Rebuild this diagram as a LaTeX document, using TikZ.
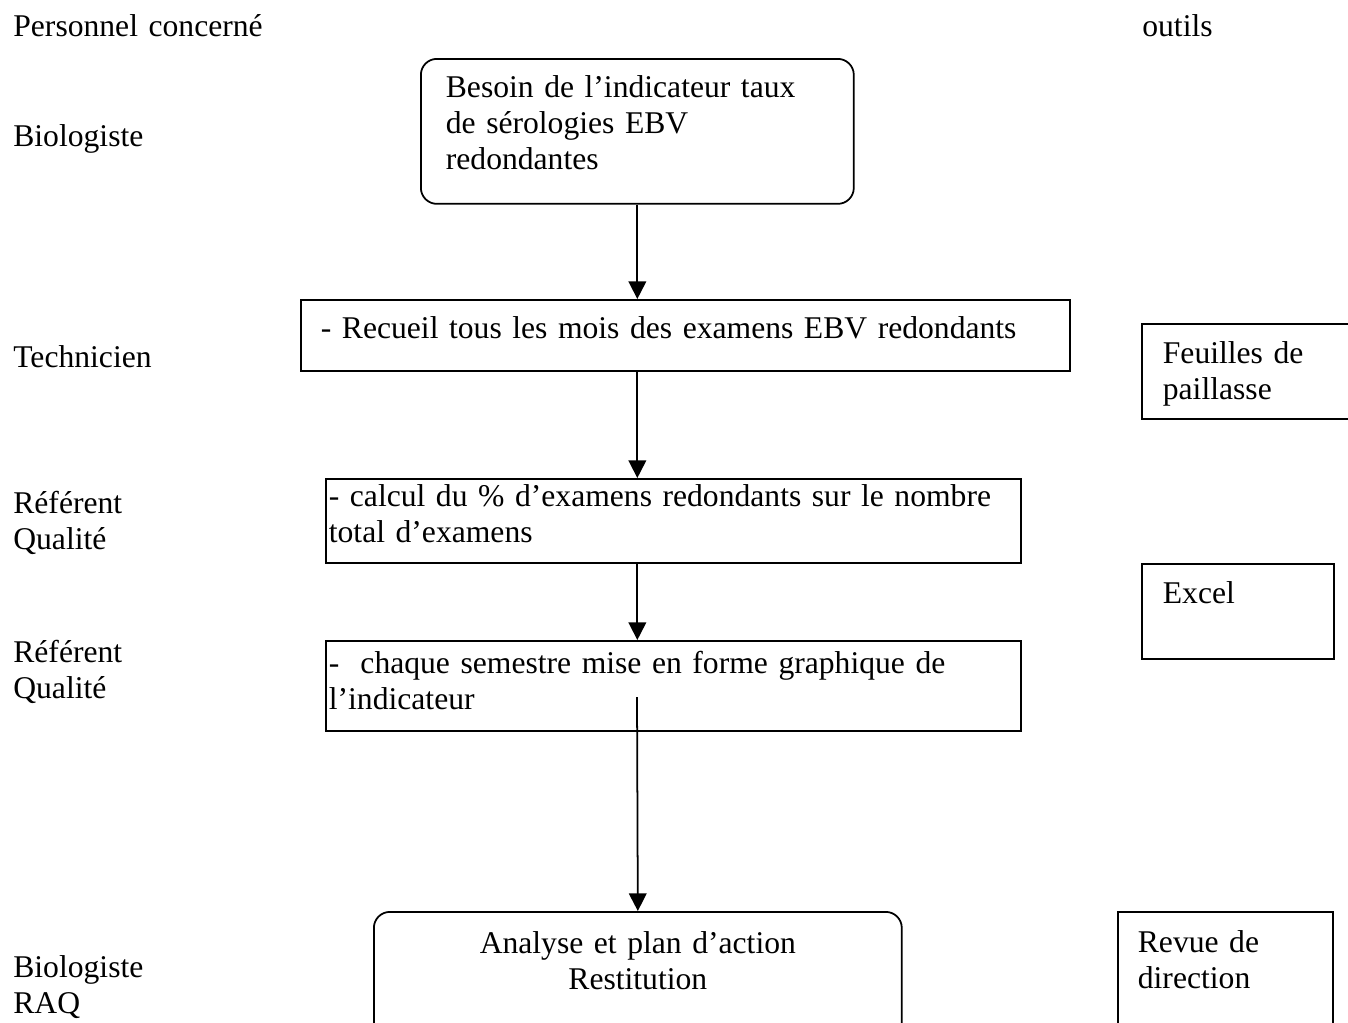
\documentclass[tikz,border=0pt]{standalone}
\usepackage{fontspec}
\setmainfont{Liberation Serif}
\usetikzlibrary{arrows.meta}

\begin{document}
\begin{tikzpicture}[
    x=0.02cm, y=-0.02cm,
    font=\fontsize{18}{20.5}\selectfont,
    box/.style={rectangle, draw=black, line width=1pt, anchor=north west,
      inner sep=0pt, align=left},
    roundbox/.style={box, rounded corners=0.32cm},
    role/.style={anchor=base west, inner sep=0pt, align=left, text width=7cm},
    arrow/.style={-{Triangle[length=10pt, width=10pt]}, line width=1pt},
  ]
  \useasboundingbox (0,0) rectangle (1348,1022);
  \clip (0,0) rectangle (1348,1022);

  % column titles
  \node[role] (perso)  at (13,36)   {Personnel concerné};
  \node[role] (outils) at (1142,36) {outils};

  % who does what
  \node[role] (bio)  at (13,146) {Biologiste};
  \node[role] (tech) at (13,367) {Technicien};
  \node[role] (rq1)  at (13,513) {Référent\\Qualité};
  \node[role] (rq2)  at (13,662) {Référent\\Qualité};
  \node[role] (raq)  at (13,977) {Biologiste\\RAQ};

  % steps
  \node[roundbox, text width=7.66cm, inner xsep=0.5cm, text height=0.78cm, text depth=2.12cm]
    (besoin) at (420,58) {Besoin de l’indicateur taux\\de sérologies EBV\\redondantes};
  \node[box, text width=14.58cm, inner xsep=0.4cm, text height=0.78cm, text depth=0.64cm]
    (recueil) at (300,299) {- Recueil tous les mois des examens EBV redondants};
  \node[box, text width=13.78cm, inner xsep=0.06cm, text height=0.56cm, text depth=1.12cm]
    (calcul) at (325,478) {- calcul du \% d’examens redondants sur le nombre\\total d’examens};
  \node[box, text width=13.78cm, inner xsep=0.06cm, text height=0.66cm, text depth=1.14cm]
    (graphe) at (325,640) {-\ \ chaque semestre mise en forme graphique de\\l’indicateur};
  \node[roundbox, align=center, text width=10.56cm, text height=0.84cm, text depth=3cm]
    (analyse) at (373,911) {Analyse et plan d’action\\Restitution};

  % tools
  \node[box, text width=5.16cm, inner xsep=0.42cm, text height=0.8cm, text depth=1.1cm]
    (feuilles) at (1141,323) {Feuilles de\\paillasse};
  \node[box, text width=3cm, inner xsep=0.42cm, text height=0.8cm, text depth=1.1cm]
    (excel) at (1141,563) {Excel};
  \node[box, text width=3.5cm, inner xsep=0.4cm, text height=0.82cm, text depth=3cm]
    (revue) at (1117,911) {Revue de\\direction};

  \coordinate (depart) at (637,697);

  \draw[arrow] (besoin.south) -- (besoin.south |- recueil.north);
  \draw[arrow] (recueil.south -| besoin.south) -- (calcul.north -| besoin.south);
  \draw[arrow] (calcul.south -| besoin.south) -- (graphe.north -| besoin.south);
  \draw[arrow] (depart) -- (analyse.north);
\end{tikzpicture}
\end{document}
